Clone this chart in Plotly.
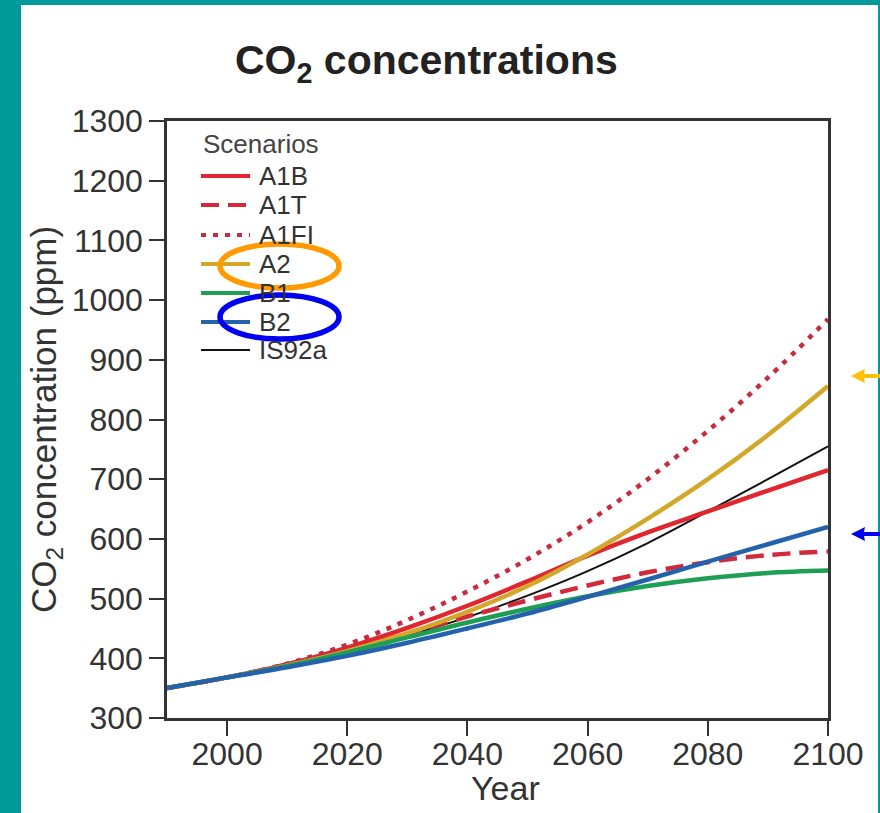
import plotly.graph_objects as go

# CO2 concentration projections (ppm) by SRES scenario, every 10 years
years = [1990, 2000, 2010, 2020, 2030, 2040, 2050, 2060, 2070, 2080, 2090, 2100]
a1b = [350, 368, 390, 418, 451, 488, 529, 572, 611, 646, 681, 715]
a1t = [350, 368, 389, 414, 441, 470, 497, 522, 544, 561, 573, 579]
a1fi = [350, 368, 391, 423, 464, 512, 566, 628, 700, 781, 870, 968]
a2 = [350, 368, 388, 412, 442, 478, 521, 574, 634, 700, 774, 856]
b1 = [350, 368, 387, 410, 435, 460, 483, 504, 521, 534, 543, 547]
b2 = [350, 368, 385, 404, 426, 450, 475, 503, 532, 562, 591, 620]
is92a = [350, 368, 388, 411, 438, 469, 505, 546, 593, 646, 700, 755]

x_ticks = [2000, 2020, 2040, 2060, 2080, 2100]
y_ticks = [300, 400, 500, 600, 700, 800, 900, 1000, 1100, 1200, 1300]

scenarios = ["A1B", "A1T", "A1FI", "A2", "B1", "B2", "IS92a"]
series = {"A1B": a1b, "A1T": a1t, "A1FI": a1fi, "A2": a2, "B1": b1, "B2": b2, "IS92a": is92a}
colors = {"A1B": "#E0262E", "A1T": "#D22A3A", "A1FI": "#C82A3E", "A2": "#D3A82A",
          "B1": "#1E9F55", "B2": "#2463AC", "IS92a": "#111111"}
dashes = {"A1B": "solid", "A1T": "18px,9px", "A1FI": "5px,7px", "A2": "solid",
          "B1": "solid", "B2": "solid", "IS92a": "solid"}
widths = {"A1B": 4.5, "A1T": 4.5, "A1FI": 4.5, "A2": 4.5, "B1": 4.5, "B2": 4.5, "IS92a": 2}

W, H = 880, 813
L, R, T, B = 167, 52, 121, 95
PW, PH = W - L - R, H - T - B


def px(x):
    return (x - L) / PW


def py(y):
    return (H - B - y) / PH


fig = go.Figure()
draw_order = ["IS92a", "A1B", "A1T", "A1FI", "A2", "B1", "B2"]
for name in draw_order:
    fig.add_trace(go.Scatter(
        x=years, y=series[name], mode="lines", name=name,
        line=dict(color=colors[name], width=widths[name], dash=dashes[name],
                  shape="spline", smoothing=1.0),
        showlegend=False,
    ))

shapes = []
annotations = []

# white page inside the teal frame
shapes.append(dict(type="rect", xref="paper", yref="paper", layer="below",
                   x0=px(21), x1=px(878), y0=py(H + 5), y1=py(5),
                   fillcolor="white", line=dict(width=0)))

# hand-made legend block
font_family = "Liberation Sans, Arial, sans-serif"
annotations.append(dict(text="Scenarios", xref="paper", yref="paper",
                        x=px(201), y=py(144), xanchor="left", yanchor="middle",
                        showarrow=False, font=dict(size=26, color="#444", family=font_family)))
row_y = [176, 205, 235, 264, 293, 322, 350]
for name, yy in zip(scenarios, row_y):
    shapes.append(dict(type="line", xref="paper", yref="paper",
                       x0=px(201), x1=px(250), y0=py(yy), y1=py(yy),
                       line=dict(color=colors[name], width=4 if widths[name] > 3 else 2,
                                 dash=dashes[name])))
    annotations.append(dict(text=name, xref="paper", yref="paper",
                            x=px(257), y=py(yy), xanchor="left", yanchor="middle",
                            showarrow=False, font=dict(size=26, color="#333", family=font_family)))

# highlight rings around A2 and B2
shapes.append(dict(type="circle", xref="paper", yref="paper",
                   x0=px(220), x1=px(339), y0=py(288), y1=py(244),
                   line=dict(color="#FF9A00", width=5.5)))
shapes.append(dict(type="circle", xref="paper", yref="paper",
                   x0=px(220), x1=px(339), y0=py(339), y1=py(295),
                   line=dict(color="#0000F0", width=5.5)))


def arrow_path(tip_x, tip_y):
    pts = [(tip_x, tip_y), (tip_x + 14, tip_y - 7), (tip_x + 13, tip_y - 2),
           (W + 5, tip_y - 2), (W + 5, tip_y + 2), (tip_x + 13, tip_y + 2),
           (tip_x + 14, tip_y + 7)]
    return "M " + " L ".join(f"{px(a):.5f},{py(b):.5f}" for a, b in pts) + " Z"


shapes.append(dict(type="path", xref="paper", yref="paper", path=arrow_path(851, 376),
                   fillcolor="#FFC000", line=dict(width=0)))
shapes.append(dict(type="path", xref="paper", yref="paper", path=arrow_path(851, 534),
                   fillcolor="#0000F0", line=dict(width=0)))

# title and axis titles
annotations.append(dict(text="<b>CO<sub>2</sub> concentrations</b>", xref="paper", yref="paper",
                        x=px(426), y=py(63), xanchor="center", yanchor="middle", showarrow=False,
                        font=dict(size=41, color="#222", family=font_family)))
annotations.append(dict(text="CO<sub>2</sub> concentration (ppm)", xref="paper", yref="paper",
                        x=px(46), y=py(420), xanchor="center", yanchor="middle", textangle=-90,
                        showarrow=False, font=dict(size=35, color="#333", family=font_family)))
annotations.append(dict(text="Year", xref="paper", yref="paper",
                        x=px(505), y=py(788), xanchor="center", yanchor="middle",
                        showarrow=False, font=dict(size=34, color="#333", family=font_family)))

axis_common = dict(showgrid=False, zeroline=False, showline=True, linecolor="#333",
                   linewidth=2.5, mirror=True, ticks="outside", ticklen=15, tickwidth=2,
                   tickcolor="#333", tickfont=dict(size=32, color="#333", family=font_family))

fig.update_layout(
    width=W, height=H,
    margin=dict(l=L, r=R, t=T, b=B, pad=0),
    paper_bgcolor="#009A9A",
    plot_bgcolor="white",
    shapes=shapes,
    annotations=annotations,
    xaxis=dict(range=[1990, 2100], tickvals=x_ticks, ticklabelstandoff=-9, **axis_common),
    yaxis=dict(range=[300, 1300], tickvals=y_ticks, **axis_common),
)

fig.write_html("out.html")
